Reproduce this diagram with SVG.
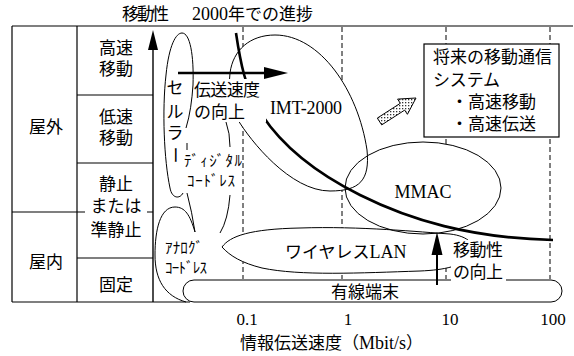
<svg xmlns="http://www.w3.org/2000/svg" width="574" height="356" viewBox="0 0 574 356">
<defs>
<pattern id="dots" width="3" height="3" patternUnits="userSpaceOnUse"><rect width="3" height="3" fill="#fff"/><rect x="0" y="0" width="1.3" height="1.3" fill="#333"/></pattern>
<style>
text{font-family:"Liberation Serif","Noto Sans CJK JP",serif;fill:#000}
.j{font-size:17px}
.m{text-anchor:middle}
.k{font-size:15px}
.n{font-size:17px}
.lat{font-size:18px}
.ln{stroke:#000;stroke-width:1.2;fill:none}
.thin{stroke:#000;stroke-width:1;fill:none}
.dash{stroke:#000;stroke-width:1;stroke-dasharray:5 3;fill:none}
.bg{fill:#fff;stroke:none}
.ah{fill:#000;stroke:none}
</style>
</defs>
<rect width="574" height="356" fill="#fff"/>

<g id="frame" class="ln">
<line x1="12" y1="26" x2="573" y2="26"/>
<line x1="12" y1="26" x2="12" y2="302"/>
<line x1="12" y1="302" x2="190" y2="302"/>
<line x1="77" y1="26" x2="77" y2="302"/>
<line x1="77" y1="95" x2="153" y2="95"/>
<line x1="77" y1="163" x2="153" y2="163"/>
<line x1="77" y1="258" x2="153" y2="258"/>
<line x1="12" y1="212" x2="153" y2="212"/>
</g>

<g id="gridlines" class="dash">
<line x1="243" y1="27" x2="243" y2="279"/>
<line x1="342" y1="27" x2="342" y2="279"/>
<line x1="446" y1="27" x2="446" y2="279"/>
<line x1="550" y1="27" x2="550" y2="279"/>
</g>

<g id="region-fills">
<path class="bg" d="M230,73 C233,50 250,35 275,35 C320,35 358,90 367,150 C370,180 360,191 330,191 C290,191 250,140 238,120 C232,108 228,90 230,73 Z"/>
<ellipse class="bg" cx="423" cy="188" rx="78" ry="46"/>
<path class="bg" d="M222,247 C230,236 250,229 300,228 C360,226 420,232 450,234 C468,236 478,245 470,256 C462,266 445,270 420,271 C360,273 300,276 262,268 C242,263 230,256 222,247 Z"/>
<rect class="bg" x="183" y="280" width="379" height="22" rx="11"/>
</g>

<g id="imt2000">
<path class="thin" d="M230,73 C233,50 250,35 275,35 C320,35 358,90 367,150 C370,180 360,191 330,191 C290,191 250,140 238,120 C232,108 228,90 230,73 Z"/>
</g>
<g id="mmac">
<ellipse class="thin" cx="423" cy="188" rx="78" ry="46"/>
</g>
<g id="wlan">
<path class="thin" d="M222,247 C230,236 250,229 300,228 C360,226 420,232 450,234 C468,236 478,245 470,256 C462,266 445,270 420,271 C360,273 300,276 262,268 C242,263 230,256 222,247 Z"/>
</g>
<g id="wired">
<rect class="thin" x="183" y="280" width="379" height="22" rx="11"/>
</g>
<g id="cellular" class="thin">
<path d="M183,193 C180,199 172,199 170,188 C164,160 162,110 166,75 C169,45 176,33 182,33 C190,33 194,55 193,85 C192,100 190,115 186,128"/>
<path d="M187,143 L187,150"/>
<path d="M187,193 Q192,212 195,232"/>
</g>
<g id="digital" class="thin">
<path d="M226,122 Q230,133 230,147"/>
<path d="M230,195 Q228,220 220,233"/>
</g>
<g id="analog" class="thin">
<path d="M195,232 C190,215 185,207 175,207 C160,207 155,230 155,255 C155,280 165,296 186,302"/>
</g>

<g id="connectors">
<path d="M236,33 C240,60 245,90 262,115 C285,150 320,175 360,195 C410,220 470,238 553,240" fill="none" stroke="#000" stroke-width="2.6"/>
<line x1="153" y1="48" x2="153" y2="302" stroke="#000" stroke-width="1.4"/>
<polygon class="ah" points="148,50 153,30 158,50"/>
<line x1="178" y1="73" x2="266" y2="73" stroke="#000" stroke-width="2.5"/>
<polygon class="ah" points="264,67 288,73 264,79"/>
<line x1="437" y1="285" x2="437" y2="252" stroke="#000" stroke-width="2"/>
<polygon class="ah" points="431.5,255 437,232 442.5,255"/>
<polygon points="377.3,118.1 400.3,103.3 397.6,99.1 416,98 407.4,114.3 404.7,110.1 381.7,124.9" fill="url(#dots)" stroke="#000" stroke-width="1"/>
</g>

<g id="labels">
<text class="j" x="122" y="20" textLength="47">移動性</text>
<text class="j" x="192" y="20"><tspan font-size="18">2000</tspan>年での進捗</text>

<text class="j m" x="116" y="54">高速</text>
<text class="j m" x="116" y="75">移動</text>
<text class="j m" x="116" y="123">低速</text>
<text class="j m" x="116" y="144">移動</text>
<text class="j m" x="46" y="133">屋外</text>
<rect class="bg" x="85" y="199" width="62" height="20"/>
<text class="j m" x="116" y="190">静止</text>
<text class="j m" x="116" y="212">または</text>
<text class="j m" x="116" y="236">準静止</text>
<text class="j m" x="46" y="268">屋内</text>
<text class="j m" x="116" y="291">固定</text>

<text class="j m" x="175" y="94">セ</text>
<text class="j m" x="175" y="118">ル</text>
<text class="j m" x="175" y="139">ラ</text>
<text class="j m" x="175" y="161" transform="rotate(90 175 155)">ー</text>

<rect class="bg" x="194" y="79" width="72" height="43"/>
<text class="j" x="194" y="96" textLength="66">伝送速度</text>
<text class="j" x="194" y="118" textLength="51">の向上</text>

<text class="lat" x="270" y="114" textLength="72">IMT-2000</text>
<text class="k" x="184" y="166" textLength="58">ﾃﾞｨｼﾞﾀﾙ</text>
<text class="k" x="187" y="186" textLength="48">ｺｰﾄﾞﾚｽ</text>
<text class="k" x="165" y="253" textLength="38">ｱﾅﾛｸﾞ</text>
<text class="k" x="165" y="273" textLength="42">ｺｰﾄﾞﾚｽ</text>
<text class="j" x="285" y="258">ワイヤレス<tspan font-size="18">LAN</tspan></text>
<text class="lat m" x="423" y="198">MMAC</text>
<rect class="bg" x="451" y="240" width="55" height="42"/>
<text class="j" x="453" y="256" textLength="50">移動性</text>
<text class="j" x="453" y="278" textLength="50">の向上</text>
<text class="j m" x="365" y="298">有線端末</text>
</g>

<g id="future-box">
<rect x="424" y="44" width="135" height="93" fill="#fff" stroke="#000" stroke-width="1.2"/>
<text class="j" x="433" y="63" textLength="119">将来の移動通信</text>
<text class="j" x="433" y="86" textLength="67">システム</text>
<text class="j" x="451" y="108">・高速移動</text>
<text class="j" x="451" y="130">・高速伝送</text>
</g>

<g id="axis">
<text class="n m" x="247" y="325">0.1</text>
<text class="n m" x="348" y="325">1</text>
<text class="n m" x="450" y="325">10</text>
<text class="n m" x="553" y="325">100</text>
<text class="j" x="240" y="349">情報伝送速度（<tspan font-size="18">Mbit/s</tspan>）</text>
</g>
</svg>
